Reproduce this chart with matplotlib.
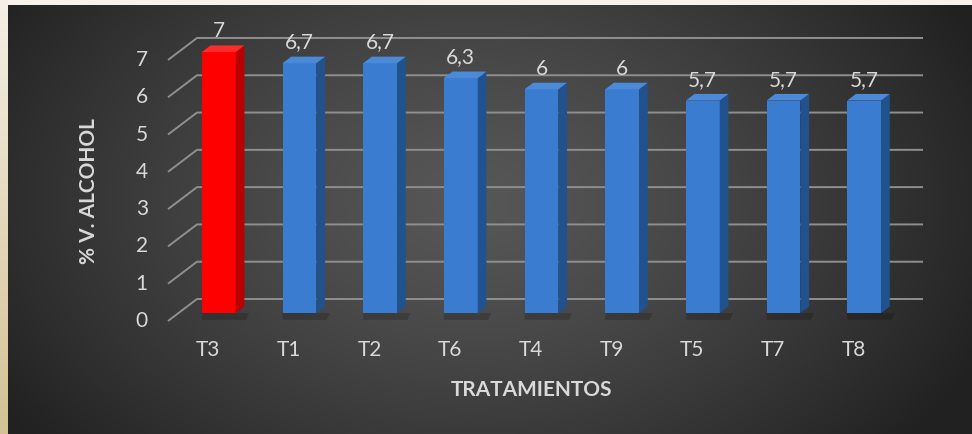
import numpy as np
import matplotlib.pyplot as plt
from matplotlib.patches import Polygon

plt.rcParams['font.family'] = ['Lato', 'DejaVu Sans']

tratamientos = ['T3', 'T1', 'T2', 'T6', 'T4', 'T9', 'T5', 'T7', 'T8']
alcohol = [7, 6.7, 6.7, 6.3, 6, 6, 5.7, 5.7, 5.7]
y_ticks = [0, 1, 2, 3, 4, 5, 6, 7]


def main():
    W, H = 972, 434
    fig = plt.figure(figsize=(W / 100, H / 100), dpi=100)

    # background: dark radial gradient with a cream frame on the left and top
    yy, xx = np.mgrid[0:H, 0:W]
    r = np.sqrt(((xx - 470) / 560.0) ** 2 + ((yy - 200) / 380.0) ** 2)
    g = 0.34 - 0.21 * np.clip(r, 0, 1) ** 1.3
    img = np.dstack([g, g, g])
    t = (yy[:, :8] / (H - 1.0))[..., None]
    img[:, :8] = (1 - t) * np.array([0.96, 0.94, 0.90]) + t * np.array([0.83, 0.76, 0.58])
    img[:5, 8:] = [0.97, 0.95, 0.92]
    bg = fig.add_axes([0, 0, 1, 1])
    bg.imshow(img, extent=[0, W, H, 0], aspect='auto')
    bg.axis('off')

    # plot axes: x in category units, y in % units (front plane)
    x0, y0, cat_w, unit = 168, 321, 80.67, 37.29
    ax = fig.add_axes([0, 0, 1, 1])
    ax.set_facecolor('none')
    ax.set_xlim(-0.5 - x0 / cat_w, -0.5 + (W - x0) / cat_w)
    ax.set_ylim(-(H - y0) / unit, y0 / unit)
    ax.axis('off')

    DX, DY = 29 / cat_w, 22 / unit
    n = len(tratamientos)
    txt = '#d9d9d9'

    for v in y_ticks:
        ax.plot([-0.5, -0.5 + DX, n - 0.5 + DX], [v, v + DY, v + DY],
                color='#8f8f8f', lw=1.4, zorder=1, solid_capstyle='butt')
        ax.text(-0.75, v, str(v), ha='right', va='center', fontsize=15, color=txt)

    f0, fd, bw = 0.36, 0.3, 0.42
    xs = np.arange(n) + f0 * DX
    base = f0 * DY
    front = ['#ff0000'] + ['#3a7ccf'] * (n - 1)
    side = ['#b80000'] + ['#21528e'] * (n - 1)
    top_c = ['#ff2a2a'] + ['#4a8ad8'] * (n - 1)

    # soft shadow at the foot of each bar
    for x in xs:
        ax.add_patch(Polygon([(x - bw / 2, base), (x + bw / 2 + fd * DX + 0.06, base),
                              (x + bw / 2 + fd * DX + 0.02, base - 0.18), (x - bw / 2, base - 0.18)],
                             closed=True, fc='black', alpha=0.18, ec='none', zorder=2))

    ax.bar(xs, alcohol, width=bw, bottom=base, color=front, linewidth=0, zorder=3)

    for i, (x, v) in enumerate(zip(xs, alcohol)):
        xl, xr = x - bw / 2, x + bw / 2
        top = base + v
        ax.add_patch(Polygon([(xr, base), (xr + fd * DX, base + fd * DY),
                              (xr + fd * DX, top + fd * DY), (xr, top)],
                             closed=True, fc=side[i], ec='none', zorder=3))
        ax.add_patch(Polygon([(xl, top), (xr, top), (xr + fd * DX, top + fd * DY),
                              (xl + fd * DX, top + fd * DY)],
                             closed=True, fc=top_c[i], ec='none', zorder=3))
        ax.annotate(f'{v:g}'.replace('.', ','), (x, top + fd * DY), xytext=(0, 3),
                    textcoords='offset points', ha='center', va='bottom',
                    fontsize=15, color=txt)
        ax.text(i, -0.78, tratamientos[i], ha='center', va='center', fontsize=15, color=txt)

    ax.text(-1.48, 3.49, '% V. ALCOHOL', rotation=90, ha='center', va='center',
            fontsize=15, fontweight='bold', color=txt)
    ax.text(4.0, -1.85, 'TRATAMIENTOS', ha='center', va='center',
            fontsize=15, fontweight='bold', color=txt)

    fig.savefig('out.png', dpi=100)


if __name__ == "__main__":
    main()
